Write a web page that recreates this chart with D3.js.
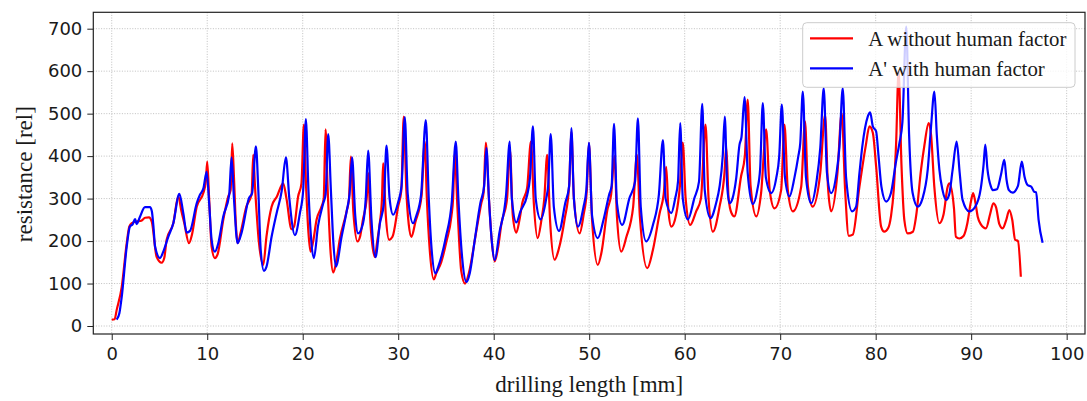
<!DOCTYPE html>
<html>
<head>
<meta charset="utf-8">
<script src="https://cdn.jsdelivr.net/npm/d3@7"></script>
<style>
    body { margin: 0; background: #fff; }
    .tick text { font-family: "DejaVu Sans", sans-serif; font-size: 18px; fill: #1a1a1a; }
    .axis-label { font-family: "Liberation Serif", "Times New Roman", serif; font-size: 23px; fill: #1a1a1a; }
    .legend text { font-family: "Liberation Serif", "Times New Roman", serif; font-size: 20.8px; fill: #1a1a1a; }
</style>
</head>
<body>
<div id="chart"></div>
<script>
// drilling length [mm] and resistance [rel]
var redDepth = [0, 0.3, 0.52, 1.05, 1.57, 1.84, 2.1, 2.6, 3.1, 3.5, 3.9, 4.2, 4.7, 5.23, 5.5, 5.75, 6.45, 6.97, 7.3, 7.6,
    8.09, 8.4, 8.9, 9.59, 9.85, 10.0, 10.2, 10.46, 10.8, 11.1, 11.68, 12.2, 12.45, 12.62, 12.8, 13.0, 13.18, 13.5, 14.1, 14.65,
    14.82, 15.0, 15.4, 15.87, 16.2, 16.74, 17.3, 17.96, 18.3, 18.83, 19.1, 19.52, 19.87, 20.12, 20.35, 20.6, 20.82, 21.1, 21.45, 21.97,
    22.2, 22.39, 22.6, 22.9, 23.19, 23.5, 23.9, 24.6, 24.85, 25.04, 25.3, 25.74, 26.0, 26.3, 26.7, 26.85, 27.1, 27.55, 27.8, 28.07,
    28.3, 28.42, 28.7, 29.05, 29.4, 29.99, 30.33, 30.58, 30.85, 31.1, 31.39, 31.8, 32.44, 32.78, 33.0, 33.3, 33.72, 34.0, 34.5, 35.05,
    35.57, 35.75, 35.92, 36.2, 36.6, 37.0, 37.4, 38.2, 38.7, 38.95, 39.17, 39.5, 39.8, 40.1, 40.5, 40.8, 41.4, 41.7, 42.0, 42.37,
    42.7, 43.0, 43.5, 43.9, 44.2, 44.6, 45.0, 45.3, 45.6, 45.9, 46.38, 46.8, 47.43, 47.9, 48.13, 48.4, 49.0, 49.4, 49.75, 49.97,
    50.3, 50.9, 51.3, 51.9, 52.3, 52.65, 52.9, 53.36, 53.9, 54.6, 55.0, 55.3, 56.08, 56.67, 57.37, 57.8, 58.07, 58.3, 58.6, 59.1,
    59.5, 59.8, 60.1, 60.58, 61.2, 61.7, 62.18, 62.5, 62.95, 63.65, 64.17, 64.35, 64.6, 64.9, 65.2, 65.9, 66.3, 66.6, 66.9, 67.5,
    68.0, 68.53, 68.9, 69.4, 70.1, 70.45, 70.8, 71.32, 72.2, 72.6, 72.9, 73.4, 74.2, 74.7, 75.0, 75.34, 76.0, 76.44, 76.8, 77.18,
    77.6, 78.3, 78.95, 79.35, 79.7, 80.05, 80.57, 80.9, 81.3, 81.6, 81.9, 82.14, 82.4, 82.7, 83.0, 83.35, 83.9, 84.23, 84.75, 85.1,
    85.55, 85.8, 86.14, 86.67, 87.1, 87.54, 87.72, 88.2, 88.4, 88.75, 89.2, 89.6, 89.95, 90.2, 90.45, 90.68, 91.0, 91.55, 92.0, 92.32,
    92.6, 92.95, 93.3, 93.65, 94.0, 94.3, 94.6, 94.9, 95.2];
var redValue = [15, 16, 38, 92, 195, 234, 242, 246, 248, 255, 256, 245, 163, 149, 160, 203, 242, 305, 270, 242,
    195, 215, 281, 313, 340, 387, 300, 187, 160, 170, 250, 305, 320, 430, 350, 240, 195, 220, 281, 310,
    403, 330, 200, 144, 210, 281, 305, 336, 300, 228, 235, 305, 336, 474, 330, 220, 175, 200, 250, 281,
    300, 463, 330, 180, 126, 150, 206, 270, 300, 399, 270, 199, 210, 250, 300, 360, 240, 163, 200, 242,
    300, 383, 260, 203, 210, 281, 320, 493, 320, 240, 210, 245, 305, 434, 300, 180, 110, 125, 150, 199,
    258, 301, 407, 280, 130, 100, 125, 226, 289, 315, 432, 300, 200, 152, 190, 240, 300, 415, 260, 220,
    250, 290, 325, 434, 290, 207, 250, 300, 403, 250, 156, 180, 252, 330, 458, 300, 218, 260, 320, 430,
    250, 144, 175, 273, 310, 400, 260, 175, 210, 280, 403, 260, 136, 179, 265, 310, 375, 270, 234, 262,
    330, 432, 300, 238, 270, 300, 474, 300, 222, 281, 361, 423, 300, 266, 258, 352, 400, 533, 330, 258,
    313, 463, 320, 277, 320, 474, 320, 270, 328, 482, 330, 281, 361, 497, 330, 270, 361, 501, 320, 212,
    215, 328, 423, 470, 455, 375, 234, 222, 230, 258, 323, 430, 600, 380, 250, 218, 222, 258, 368, 425,
    478, 450, 328, 242, 262, 328, 336, 277, 210, 206, 212, 242, 290, 313, 290, 258, 240, 230, 265, 289,
    280, 240, 230, 248, 273, 250, 203, 200, 116];

var blueDepth = [0.52, 0.8, 1.05, 1.57, 1.9, 2.2, 2.45, 2.6, 2.97, 3.48, 4.0, 4.2, 4.37, 4.54, 5.05, 5.4, 5.92, 6.45, 7.08, 7.5,
    7.85, 8.2, 8.9, 9.24, 9.6, 9.94, 10.2, 10.46, 10.8, 11.16, 11.68, 12.3, 12.55, 12.8, 13.18, 13.6, 14.37, 14.7, 15.1, 15.35,
    15.6, 15.94, 16.2, 16.74, 17.26, 17.8, 18.24, 18.6, 19.18, 19.7, 20.05, 20.33, 20.6, 20.9, 21.17, 21.6, 22.15, 22.4, 22.67, 22.95,
    23.2, 23.47, 24.07, 24.6, 24.9, 25.17, 25.5, 25.8, 26.3, 26.6, 26.85, 27.2, 27.62, 28.07, 28.5, 28.77, 29.1, 29.47, 30.0, 30.35,
    30.69, 31.0, 31.56, 31.9, 32.4, 32.89, 33.2, 33.5, 33.9, 34.2, 35.0, 35.6, 36.03, 36.3, 36.7, 37.15, 37.5, 38.0, 38.6, 39.0,
    39.24, 39.5, 39.8, 40.1, 40.6, 41.3, 41.68, 41.9, 42.37, 42.8, 43.5, 43.8, 44.11, 44.4, 44.92, 45.5, 45.7, 45.97, 46.3, 46.84,
    47.5, 47.9, 48.13, 48.4, 48.82, 49.4, 49.7, 49.97, 50.3, 50.9, 51.5, 52.1, 52.35, 52.6, 52.9, 53.46, 54.2, 54.8, 55.1, 55.4,
    55.97, 56.7, 57.3, 57.72, 58.0, 58.6, 59.0, 59.3, 59.53, 59.8, 60.34, 61.0, 61.5, 61.84, 62.1, 62.7, 63.3, 63.65, 63.98, 64.2,
    64.45, 64.7, 65.0, 65.4, 65.74, 65.95, 66.27, 66.6, 67.14, 67.6, 67.9, 68.18, 68.5, 69.06, 69.6, 69.9, 70.17, 70.5, 70.97, 71.5,
    71.9, 72.1, 72.37, 72.7, 73.25, 73.8, 74.2, 74.56, 74.9, 75.34, 75.9, 76.2, 76.55, 76.9, 77.53, 77.95, 78.3, 78.6, 79.17, 79.42,
    79.7, 80.05, 80.3, 80.6, 81.1, 81.6, 82.1, 82.48, 82.8, 83.2, 83.5, 83.87, 84.4, 84.9, 85.45, 85.8, 86.15, 86.4, 86.67, 87.0,
    87.37, 87.7, 88.06, 88.48, 88.8, 89.1, 89.8, 90.4, 91.0, 91.3, 91.48, 91.7, 92.07, 92.25, 92.7, 93.12, 93.47, 93.7, 93.95, 94.34,
    94.9, 95.3, 95.6, 95.9, 96.3, 96.6, 96.8, 97.06, 97.48];
var blueValue = [15, 30, 69, 187, 234, 240, 252, 240, 258, 280, 280, 270, 234, 187, 160, 175, 210, 242, 311, 265,
    220, 224, 289, 309, 324, 363, 290, 203, 175, 195, 258, 309, 397, 300, 195, 220, 301, 313, 423, 320,
    180, 130, 139, 210, 265, 318, 397, 300, 214, 265, 320, 487, 320, 200, 160, 235, 289, 310, 452, 320,
    200, 140, 210, 270, 310, 397, 260, 218, 240, 300, 413, 250, 162, 240, 290, 425, 300, 262, 292, 330,
    492, 310, 242, 260, 310, 485, 300, 180, 124, 140, 210, 290, 434, 300, 160, 104, 125, 200, 289, 330,
    419, 300, 200, 155, 220, 310, 434, 300, 244, 270, 308, 350, 470, 300, 251, 300, 330, 452, 280, 224,
    290, 330, 466, 300, 234, 280, 320, 432, 260, 207, 250, 310, 330, 476, 290, 238, 300, 340, 489, 280,
    199, 240, 310, 438, 300, 266, 300, 340, 478, 300, 251, 300, 340, 523, 320, 254, 290, 328, 399, 493,
    330, 289, 300, 349, 427, 445, 539, 360, 287, 320, 370, 525, 350, 313, 350, 400, 521, 350, 305, 350,
    400, 430, 552, 350, 289, 340, 420, 560, 360, 313, 360, 420, 560, 350, 270, 281, 360, 423, 493, 503,
    470, 458, 400, 328, 293, 313, 383, 430, 480, 705, 450, 313, 281, 300, 368, 470, 552, 450, 368, 320,
    297, 310, 368, 434, 360, 297, 270, 280, 323, 380, 427, 370, 328, 320, 322, 356, 391, 345, 320, 314,
    330, 387, 350, 332, 328, 316, 315, 250, 196];

var xTicks = [0, 10, 20, 30, 40, 50, 60, 70, 80, 90, 100];
var yTicks = [0, 100, 200, 300, 400, 500, 600, 700];
var seriesNames = ["A without human factor", "A' with human factor"];
var seriesColors = ["#ff0000", "#0000ff"];

var width = 1087,
    height = 401,
    plot = {left: 93.3, right: 1085, top: 12.3, bottom: 334};

var x = d3.scaleLinear().domain([-1.93, 101.92]).range([plot.left, plot.right]);
var y = d3.scaleLinear().domain([-18.8, 738.6]).range([plot.bottom, plot.top]);

var svg = d3.select("#chart").append("svg")
    .attr("width", width)
    .attr("height", height);

/*
 * Grid
 */
svg.append("g").selectAll("line").data(xTicks).enter().append("line")
    .attr("x1", function(d) { return x(d); })
    .attr("x2", function(d) { return x(d); })
    .attr("y1", plot.top)
    .attr("y2", plot.bottom)
    .attr("stroke", "#b0b0b0")
    .attr("stroke-width", 0.8)
    .attr("stroke-dasharray", "1,1.6");

svg.append("g").selectAll("line").data(yTicks).enter().append("line")
    .attr("x1", plot.left)
    .attr("x2", plot.right)
    .attr("y1", function(d) { return y(d); })
    .attr("y2", function(d) { return y(d); })
    .attr("stroke", "#b0b0b0")
    .attr("stroke-width", 0.8)
    .attr("stroke-dasharray", "1,1.6");

/*
 * Lines
 */
var series = [
    {depth: redDepth, value: redValue, color: seriesColors[0]},
    {depth: blueDepth, value: blueValue, color: seriesColors[1]}
];

var line = d3.line()
    .x(function(d) { return x(d[0]); })
    .y(function(d) { return y(d[1]); })
    .curve(d3.curveMonotoneX);

svg.append("clipPath").attr("id", "clip").append("rect")
    .attr("x", plot.left).attr("y", plot.top)
    .attr("width", plot.right - plot.left).attr("height", plot.bottom - plot.top);

series.forEach(function(s) {
    var pts = s.depth.map(function(d, k) { return [d, s.value[k]]; });
    svg.append("path")
        .datum(pts)
        .attr("clip-path", "url(#clip)")
        .attr("fill", "none")
        .attr("stroke", s.color)
        .attr("stroke-width", 2.2)
        .attr("stroke-linejoin", "round")
        .attr("d", line);
});

/*
 * Axes
 */
svg.append("g")
    .attr("transform", "translate(0," + plot.bottom + ")")
    .call(d3.axisBottom(x).tickValues(xTicks).tickSize(6).tickPadding(7).tickSizeOuter(0))
    .call(function(g) { g.select(".domain").remove(); });

svg.append("g")
    .attr("transform", "translate(" + plot.left + ",0)")
    .call(d3.axisLeft(y).tickValues(yTicks).tickSize(6).tickPadding(5).tickSizeOuter(0))
    .call(function(g) { g.select(".domain").remove(); });

svg.selectAll(".tick line").attr("stroke", "#222").attr("stroke-width", 1);

svg.append("rect")
    .attr("x", plot.left)
    .attr("y", plot.top)
    .attr("width", plot.right - plot.left)
    .attr("height", plot.bottom - plot.top)
    .attr("fill", "none")
    .attr("stroke", "#222")
    .attr("stroke-width", 1.2);

svg.append("text")
    .attr("class", "axis-label")
    .attr("x", (x(0) + x(100)) / 2)
    .attr("y", 392)
    .attr("text-anchor", "middle")
    .text("drilling length [mm]");

svg.append("text")
    .attr("class", "axis-label")
    .attr("transform", "translate(32," + ((plot.top + plot.bottom) / 2 + 1) + ") rotate(-90)")
    .attr("text-anchor", "middle")
    .text("resistance [rel]");

/*
 * Legend
 */
var legend = svg.append("g").attr("class", "legend");

legend.append("rect")
    .attr("x", 802.7)
    .attr("y", 22.7)
    .attr("width", 272.3)
    .attr("height", 64.6)
    .attr("rx", 4)
    .attr("fill", "#fff")
    .attr("fill-opacity", 0.8)
    .attr("stroke", "#cccccc")
    .attr("stroke-width", 1);

legend.selectAll("g.item").data(seriesNames).enter()
    .append("g")
    .attr("class", "item")
    .each(function(d, k) {
        var g = d3.select(this);
        var ly = 38.3 + k * 30;
        g.append("line")
            .attr("x1", 810).attr("x2", 853)
            .attr("y1", ly).attr("y2", ly)
            .attr("stroke", seriesColors[k])
            .attr("stroke-width", 2.2);
        g.append("text")
            .attr("x", 868.3)
            .attr("y", ly + 7.5)
            .text(d);
    });
</script>
</body>
</html>
